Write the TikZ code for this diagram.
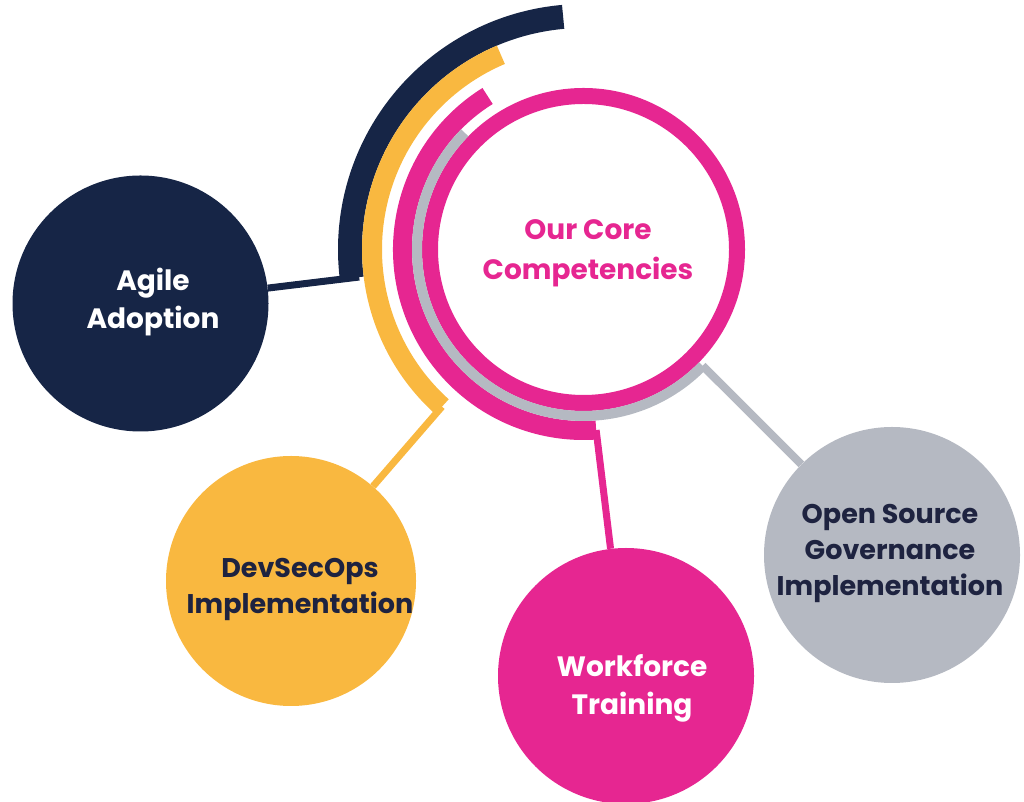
\documentclass[tikz,border=0pt]{standalone}
\usepackage{fontspec}
\setmainfont{Poppins}
\usetikzlibrary{calc}
\definecolor{navy}{HTML}{162546}
\definecolor{sun}{HTML}{F9B840}
\definecolor{rose}{HTML}{E62691}
\definecolor{slate}{HTML}{B5B9C2}
\definecolor{ink}{HTML}{1E2340}
\begin{document}
\begin{tikzpicture}[x=1pt,y=1pt,
  bubble/.style={circle,inner sep=0pt,minimum size=#1},
  caption/.style={inner sep=0pt,align=center,
     font=\fontsize{28}{38}\selectfont\bfseries},
  link/.style={line width=7pt},
  band/.style={line cap=butt}]
\useasboundingbox (0,0) rectangle (1024,802);
\coordinate (C) at (583.5,552.5);
% centre
\node[bubble=307pt, draw=rose, line width=16pt] (core) at (C) {};
\node[caption, text=rose, font=\fontsize{28}{40}\selectfont\bfseries] (coretext) at (588,549) {Our Core\\Competencies};
% satellites
\node[bubble=256pt, fill=navy] (agile) at (140.5,498.5) {};
\node[caption, text=white] (agiletext) at (153,500) {Agile\\Adoption};
\node[bubble=250pt, fill=sun] (dev) at (291,221) {};
\node[caption, text=ink, font=\fontsize{27}{36}\selectfont\bfseries] (devtext) at (300,213) {DevSecOps\\Implementation};
\node[bubble=256pt, fill=rose] (work) at (626,126) {};
\node[caption, text=white] (worktext) at (632,114) {Workforce\\Training};
\node[bubble=256pt, fill=slate] (oss) at (892,247) {};
\node[caption, text=ink, font=\fontsize{27}{36}\selectfont\bfseries] (osstext) at (890,249) {Open Source\\Governance\\Implementation};
% arc end coordinates
\coordinate (navend) at ($(C)+(187:226pt)$);
\coordinate (sunend) at ($(C)+(228:211.5pt)$);
\coordinate (roseend) at ($(C)+(274:181pt)$);
\coordinate (slateend) at ($(C)+(315.7:166.5pt)$);
% connectors
\draw[link, navy] (agile) -- (navend);
\draw[link, sun] (sunend) -- (dev);
\draw[link, rose] (roseend) -- (work);
\draw[link, slate, line width=8pt] (slateend) -- (oss);
% bands
\draw[band, navy, line width=24pt] ($(C)+(95:233.5pt)$) arc[start angle=95, end angle=187, radius=233.5pt];
\draw[band, sun, line width=20pt] ($(C)+(113:211.5pt)$) arc[start angle=113, end angle=228, radius=211.5pt];
\draw[band, rose, line width=19pt] ($(C)+(122:181pt)$) arc[start angle=122, end angle=274, radius=181pt];
\draw[band, slate, line width=10pt] ($(C)+(135.5:166.5pt)$) arc[start angle=135.5, end angle=315.7, radius=166.5pt];
\end{tikzpicture}
\end{document}
